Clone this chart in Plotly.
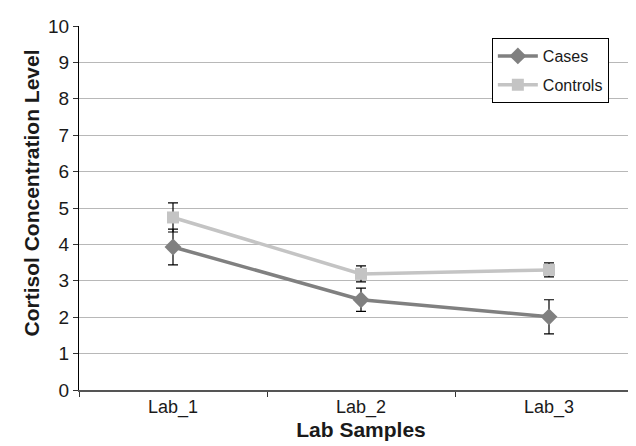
import plotly.graph_objects as go

categories = ["Lab_1", "Lab_2", "Lab_3"]
cases = [3.93, 2.48, 2.01]
cases_err = [0.49, 0.32, 0.47]
controls = [4.74, 3.19, 3.30]
controls_err = [0.40, 0.22, 0.19]
y_ticks = list(range(0, 11))

fig = go.Figure()
fig.add_trace(go.Scatter(
    x=categories, y=cases, name="Cases", mode="lines+markers", legendgroup="a",
    line=dict(color="#808080", width=3.5),
    marker=dict(symbol="diamond", size=13, color="#808080"),
    error_y=dict(type="data", array=cases_err, color="black", thickness=1.2, width=5),
))
fig.add_trace(go.Scatter(
    x=categories, y=controls, name="Controls", mode="lines+markers", legendgroup="b",
    line=dict(color="#c4c4c4", width=3.5),
    marker=dict(symbol="square", size=12, color="#c4c4c4"),
    error_y=dict(type="data", array=controls_err, color="black", thickness=1.2, width=5),
))

fig.update_layout(
    width=636, height=446,
    margin=dict(l=71, r=1, t=18, b=64),
    paper_bgcolor="white", plot_bgcolor="white",
    font=dict(family="Liberation Sans, Arial, sans-serif", size=18, color="#1a1a1a"),
    showlegend=True,
    legend=dict(
        x=0.732, y=0.967, xanchor="left", yanchor="top",
        bordercolor="black", borderwidth=1, bgcolor="white",
        font=dict(size=16), traceorder="grouped", tracegroupgap=5,
        itemwidth=40,
    ),
    xaxis=dict(
        type="category", tickson="boundaries", ticks="outside", ticklen=5,
        tickcolor="#333", showline=True, linecolor="#555", linewidth=1.5,
        showgrid=False, range=[-0.5, 2.5],
        title=dict(text="<b>Lab Samples</b>", font=dict(size=21), standoff=4),
        tickfont=dict(size=18),
    ),
    yaxis=dict(
        range=[0, 10], tickvals=y_ticks, ticks="outside", ticklen=5,
        tickcolor="#333", showline=True, linecolor="black", linewidth=1.2,
        showgrid=True, gridcolor="#b8b8b8", gridwidth=1.2, zeroline=False,
        tickfont=dict(size=19),
    ),
    annotations=[dict(
        text="<b>Cortisol Concentration Level</b>", textangle=-90,
        xref="paper", yref="paper", x=-0.085, y=0.54,
        xanchor="center", yanchor="middle", showarrow=False,
        font=dict(size=21),
    )],
)

fig.write_html("out.html")
